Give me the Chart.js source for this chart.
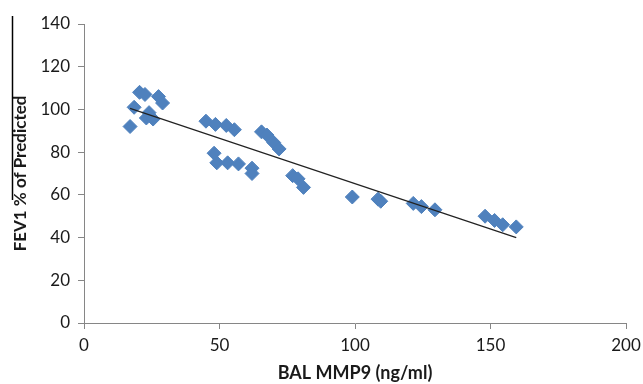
<!DOCTYPE html>
<html>
<head>
<meta charset="utf-8">
<script src="https://cdn.jsdelivr.net/npm/chart.js@4.4.1/dist/chart.umd.min.js"></script>
<style>
    html, body { margin: 0; padding: 0; background: #fff; }
    #wrap { width: 643px; height: 384px; position: relative; }
</style>
</head>
<body>
<div id="wrap"><canvas id="chart" width="643" height="384"></canvas></div>
<script>
// BAL MMP9 vs FEV1 % predicted
const mmp9 = [17, 18.5, 20.5, 22.5, 23, 24, 25.5, 27.5, 29,
    45, 48.5, 52.5, 55.5,
    48, 49, 53, 57, 62, 62,
    65.5, 67.5, 70, 72,
    77, 79, 81,
    99, 108.5, 109.5, 121.5, 124.5, 129.5,
    148, 151.5, 154.5, 159.5];
const fev1 = [92, 101, 108, 107, 96, 98.5, 95.5, 106, 103,
    94.5, 93, 92.5, 90.5,
    79.5, 75, 75, 74.5, 72.5, 70,
    89.5, 88, 84.5, 81.5,
    69, 67.5, 63.5,
    59, 58, 57, 56, 54.5, 53,
    50, 48, 46, 45];

// trendline end points as drawn in the picture
const trendX = [17, 159.5];
const trendY = [100.5, 40];

const xTicks = [0, 50, 100, 150, 200];
const yTicks = [0, 20, 40, 60, 80, 100, 120, 140];

const blue = '#4F81BD';
const axisGrey = '#868686';
const textColor = '#1a1a1a';

// the thin black line at the left edge of the picture
const edgeLine = {
    id: 'edgeLine',
    afterDraw(chart) {
        const ctx = chart.ctx;
        ctx.save();
        ctx.strokeStyle = '#000';
        ctx.lineWidth = 1.5;
        ctx.beginPath();
        ctx.moveTo(12.5, 16);
        ctx.lineTo(12.5, 200);
        ctx.stroke();
        ctx.restore();
    }
};

const ctx = document.getElementById('chart');
new Chart(ctx, {
    type: 'scatter',
    data: {
        datasets: [{
            label: 'FEV1',
            data: mmp9.map((x, i) => ({ x: x, y: fev1[i] })),
            pointStyle: 'rectRot',
            pointRadius: 7,
            backgroundColor: blue,
            borderColor: blue,
            borderWidth: 1,
            order: 2
        }, {
            label: 'Trend',
            type: 'line',
            data: trendX.map((x, i) => ({ x: x, y: trendY[i] })),
            borderColor: '#222',
            borderWidth: 1.2,
            pointRadius: 0,
            fill: false,
            order: 1
        }]
    },
    options: {
        responsive: false,
        animation: false,
        layout: { padding: { left: 0, right: 17, top: 24, bottom: 0 } },
        plugins: {
            legend: { display: false },
            tooltip: { enabled: false }
        },
        scales: {
            x: {
                type: 'linear',
                min: 0,
                max: 200,
                afterBuildTicks: (s) => { s.ticks = xTicks.map(v => ({ value: v })); },
                afterFit: (s) => {
                    s.height = 61;
                    s.paddingLeft = 0;
                    s.paddingRight = 0;
                },
                grid: { drawOnChartArea: false, color: axisGrey, tickLength: 6 },
                border: { color: axisGrey, width: 1 },
                ticks: { color: textColor, font: { family: 'Lato', size: 17 }, padding: 6 },
                title: {
                    display: true,
                    text: 'BAL MMP9 (ng/ml)',
                    color: textColor,
                    font: { family: 'Lato', size: 18, weight: 'bold' },
                    padding: { top: 4, bottom: 0 }
                }
            },
            y: {
                min: 0,
                max: 140,
                afterBuildTicks: (s) => { s.ticks = yTicks.map(v => ({ value: v })); },
                afterFit: (s) => { s.width = 84; },
                grid: { drawOnChartArea: false, color: axisGrey, tickLength: 6 },
                border: { color: axisGrey, width: 1 },
                ticks: { color: textColor, font: { family: 'Lato', size: 17 }, padding: 8 },
                title: {
                    display: true,
                    text: 'FEV1 % of Predicted',
                    color: textColor,
                    font: { family: 'Lato', size: 17, weight: 'bold' },
                    padding: { top: 10, bottom: 0 }
                }
            }
        }
    },
    plugins: [edgeLine]
});
</script>
</body>
</html>
